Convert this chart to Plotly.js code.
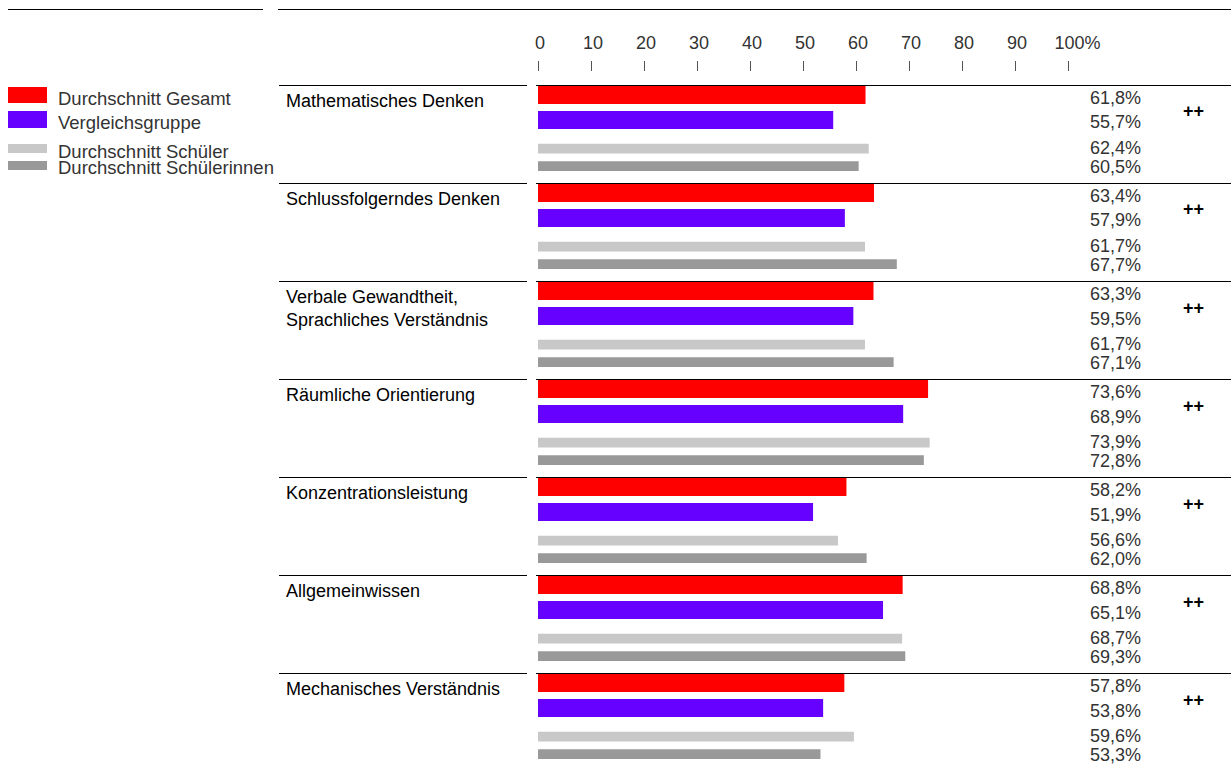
<!DOCTYPE html>
<html>
<head>
<meta charset="utf-8">
<script src="https://cdn.plot.ly/plotly-3.0.1.min.js"></script>
<style>
html,body{margin:0;padding:0;background:#fff;}
#chart{width:1231px;height:769px;}
</style>
</head>
<body>
<div id="chart"></div>
<script>
// ---- data ----
const categories = [
  "Mathematisches Denken",
  "Schlussfolgerndes Denken",
  "Verbale Gewandtheit,<br>Sprachliches Verständnis",
  "Räumliche Orientierung",
  "Konzentrationsleistung",
  "Allgemeinwissen",
  "Mechanisches Verständnis"
];
const seriesNames = ["Durchschnitt Gesamt", "Vergleichsgruppe", "Durchschnitt Schüler", "Durchschnitt Schülerinnen"];
const gesamt        = [61.8, 63.4, 63.3, 73.6, 58.2, 68.8, 57.8];
const vergleich     = [55.7, 57.9, 59.5, 68.9, 51.9, 65.1, 53.8];
const schueler      = [62.4, 61.7, 61.7, 73.9, 56.6, 68.7, 59.6];
const schuelerinnen = [60.5, 67.7, 67.1, 72.8, 62.0, 69.3, 53.3];
const marks = ["++", "++", "++", "++", "++", "++", "++"];
const tickVals = [0, 10, 20, 30, 40, 50, 60, 70, 80, 90, 100];
const tickLabels = ["0", "10", "20", "30", "40", "50", "60", "70", "80", "90", "\u00a0\u00a0\u00a0100%"];

// ---- layout constants (pixels) ----
const W = 1231, H = 769;
const px = v => v / W;            // paper x from pixel
const py = v => (H - v) / H;      // paper y from pixel
const plotTop = 72;
const groupTop0 = 85, groupH = 98;
const toU = p => (p - groupTop0) / groupH;   // pixel y -> y data
const colors = ["#ff0000", "#6600ff", "#c8c8c8", "#999999"];
const barOff = [0.097, 0.357, 0.65, 0.827];
const barW = [0.194, 0.184, 0.1, 0.1];
const labOff = [13, 37.5, 63, 82].map(v => v / groupH);
const series = [gesamt, vergleich, schueler, schuelerinnen];
const idx = categories.map((_, i) => i);

const traces = series.map((vals, s) => ({
  type: "bar",
  orientation: "h",
  x: vals,
  y: idx.map(i => i + barOff[s]),
  width: barW[s],
  name: seriesNames[s],
  marker: {color: colors[s]},
  hoverinfo: "x+name",
  showlegend: false
}));

const fmt = v => v.toFixed(1).replace(".", ",") + "%";
const annotations = [];
const shapes = [];
const thinFont = {family: "Liberation Sans, Arial, sans-serif", size: 18, color: "#333333"};
const legFont = {family: "Liberation Sans, Arial, sans-serif", size: 18.5, color: "#333333"};
const labelFont = {family: "Liberation Sans, Arial, sans-serif", size: 18, color: "#000000"};
const lineOff = 0.5 / groupH;

idx.forEach(i => {
  // group label
  annotations.push({
    xref: "paper", yref: "y", x: px(284), y: i + 4 / groupH,
    text: categories[i], showarrow: false, xanchor: "left", yanchor: "top",
    align: "left", font: labelFont
  });
  // value labels
  series.forEach((vals, s) => {
    annotations.push({
      xref: "paper", yref: "y", x: px(1088), y: i + labOff[s],
      text: fmt(vals[i]), showarrow: false, xanchor: "left", yanchor: "middle",
      font: thinFont
    });
  });
  annotations.push({
    xref: "paper", yref: "y", x: px(1193), y: i + 26.5 / groupH,
    text: "<b>" + marks[i] + "</b>", showarrow: false, xanchor: "center", yanchor: "middle",
    font: {family: "Liberation Sans, Arial, sans-serif", size: 18, color: "#000"}
  });
  // separator lines
  shapes.push({type: "line", xref: "paper", yref: "y", x0: px(279), x1: px(527), y0: i + lineOff, y1: i + lineOff,
    line: {color: "#000", width: 1}});
  shapes.push({type: "line", xref: "paper", yref: "y", x0: px(536), x1: 1, y0: i + lineOff, y1: i + lineOff,
    line: {color: "#000", width: 1}});
});

// top rules
shapes.push({type: "line", xref: "paper", yref: "paper", x0: px(8), x1: px(263), y0: py(9.5), y1: py(9.5), line: {color: "#000", width: 1}});
shapes.push({type: "line", xref: "paper", yref: "paper", x0: px(278), x1: 1, y0: py(9.5), y1: py(9.5), line: {color: "#000", width: 1}});

// legend
const legBoxes = [[87, 103], [111, 128], [144, 153], [161, 170]];
const legText = [98.5, 122.5, 151, 168];
seriesNames.forEach((n, s) => {
  shapes.push({type: "rect", xref: "paper", yref: "paper", x0: px(8), x1: px(47),
    y0: py(legBoxes[s][1]), y1: py(legBoxes[s][0]), fillcolor: colors[s], line: {width: 0}});
  annotations.push({xref: "paper", yref: "paper", x: px(56), y: py(legText[s]),
    text: n, showarrow: false, xanchor: "left", yanchor: "middle", font: legFont});
});

const layout = {
  width: W, height: H, autosize: false,
  margin: {l: 0, r: 0, t: 0, b: 0, pad: 0},
  paper_bgcolor: "#fff", plot_bgcolor: "rgba(0,0,0,0)",
  barmode: "overlay",
  showlegend: false,
  xaxis: {
    domain: [px(538), px(1068)],
    range: [0, 100],
    side: "top",
    anchor: "y",
    tickmode: "array", tickvals: tickVals, ticktext: tickLabels,
    ticks: "outside", ticklen: 10, tickwidth: 1, tickcolor: "#555",
    ticklabelstandoff: 5, ticklabelshift: 2,
    showgrid: false, zeroline: false, showline: false,
    tickfont: thinFont, fixedrange: true
  },
  yaxis: {
    domain: [0, py(plotTop)],
    range: [toU(H), toU(plotTop)],
    visible: false, showgrid: false, zeroline: false, fixedrange: true
  },
  shapes: shapes,
  annotations: annotations
};

Plotly.newPlot("chart", traces, layout, {displayModeBar: false, staticPlot: true});
</script>
</body>
</html>
